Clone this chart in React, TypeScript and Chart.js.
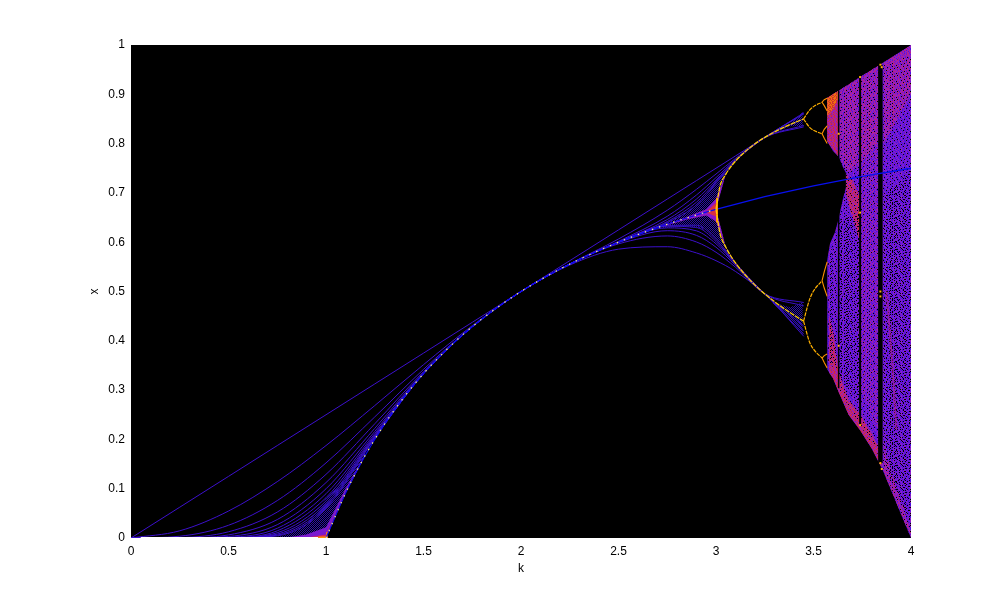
import React, { useEffect, useRef } from "react";
import { Chart, registerables } from "chart.js";

Chart.register(...registerables);

const xTicks = [0, 0.5, 1, 1.5, 2, 2.5, 3, 3.5, 4];
const yTicks = [0, 0.1, 0.2, 0.3, 0.4, 0.5, 0.6, 0.7, 0.8, 0.9, 1];

// transient curves, read at these k values
const kGrid = [0, 0.25, 0.5, 0.75, 1, 1.25, 1.5, 1.75, 2, 2.25, 2.5, 2.75, 2.9, 3, 3.1, 3.25, 3.45];
const curve1 = [0, 0.0625, 0.125, 0.1875, 0.25, 0.3125, 0.375, 0.4375, 0.5, 0.5625, 0.625, 0.6875, 0.725, 0.75, 0.775, 0.8125, 0.8625];
const curve2 = [0, 0.0146, 0.0547, 0.1143, 0.1875, 0.2686, 0.3516, 0.4307, 0.5, 0.5537, 0.5859, 0.5908, 0.5782, 0.5625, 0.5406, 0.4951, 0.4091];
const curve3 = [0, 0.0036, 0.0258, 0.0759, 0.1523, 0.2456, 0.342, 0.429, 0.5, 0.5559, 0.6065, 0.6648, 0.7073, 0.7383, 0.7699, 0.8124, 0.834];
const curve4 = [0, 0.0009, 0.0126, 0.0526, 0.1291, 0.2316, 0.3375, 0.4286, 0.5, 0.5554, 0.5966, 0.6127, 0.6004, 0.5796, 0.5492, 0.4953, 0.4776];
const curve5 = [0, 0.0002, 0.0062, 0.0374, 0.1124, 0.2224, 0.3353, 0.4286, 0.5, 0.5556, 0.6017, 0.6526, 0.6958, 0.731, 0.7675, 0.8124, 0.8608];
const curve6 = [0, 0, 0.0031, 0.027, 0.0998, 0.2162, 0.3342, 0.4286, 0.5, 0.5556, 0.5992, 0.6233, 0.6138, 0.5899, 0.5532, 0.4953, 0.4134];
const curve7 = [0, 0, 0.0015, 0.0197, 0.0898, 0.2118, 0.3337, 0.4286, 0.5, 0.5556, 0.6004, 0.6459, 0.6875, 0.7259, 0.7662, 0.8124, 0.8369];
const curve8 = [0, 0, 0.0008, 0.0145, 0.0818, 0.2087, 0.3335, 0.4286, 0.5, 0.5556, 0.6, 0.629, 0.623, 0.5968, 0.5553, 0.4953, 0.4708];
const curve9 = [0, 0, 0.0004, 0.0107, 0.0751, 0.2065, 0.3334, 0.4286, 0.5, 0.5556, 0.6, 0.6418, 0.6811, 0.7225, 0.7656, 0.8124, 0.86];
const curve10 = [0, 0, 0.0002, 0.0079, 0.0695, 0.205, 0.3333, 0.4286, 0.5, 0.5556, 0.6, 0.6322, 0.6299, 0.6015, 0.5566, 0.4953, 0.42];
const curve11 = [0, 0, 0, 0.0058, 0.0647, 0.2035, 0.3333, 0.4286, 0.5, 0.5556, 0.6, 0.6396, 0.6757, 0.7196, 0.7652, 0.8124, 0.85];
const curve12 = [0, 0, 0, 0.0043, 0.0606, 0.2025, 0.3333, 0.4286, 0.5, 0.5556, 0.6, 0.6338, 0.6344, 0.6055, 0.5574, 0.4953, 0.43];
const curves = [curve1, curve2, curve3, curve4, curve5, curve6, curve7, curve8, curve9, curve10, curve11, curve12];

// stable curves
const fixedK = [1, 1.1, 1.2, 1.3, 1.4, 1.5, 1.6, 1.7, 1.8, 1.9, 2, 2.1, 2.2, 2.3, 2.4, 2.5, 2.6, 2.7, 2.8, 2.9, 3];
const fixedX = [0, 0.0909, 0.1667, 0.2308, 0.2857, 0.3333, 0.375, 0.4118, 0.4444, 0.4737, 0.5, 0.5238, 0.5455, 0.5652, 0.5833, 0.6, 0.6154, 0.6296, 0.6429, 0.6552, 0.6667];
const unstableK = [3, 3.25, 3.5, 3.75, 4];
const unstableX = [0.6667, 0.6923, 0.7143, 0.7333, 0.75];
const period2K = [3, 3.02, 3.05, 3.1, 3.2, 3.3, 3.4, 3.449];
const period2Upper = [0.6667, 0.7125, 0.7377, 0.7645, 0.7995, 0.8236, 0.8421, 0.8499];
const period2Lower = [0.6667, 0.6186, 0.5902, 0.558, 0.513, 0.4794, 0.452, 0.44];
const period4K = [3.449, 3.48, 3.5, 3.544];
const period4A = [0.8499, 0.868, 0.875, 0.884];
const period4B = [0.8499, 0.833, 0.827, 0.82];
const period4C = [0.44, 0.484, 0.501, 0.522];
const period4D = [0.44, 0.397, 0.383, 0.365];
const period8K = [3.544, 3.555, 3.57];
const period8A1 = [0.884, 0.889, 0.892];
const period8A2 = [0.884, 0.877, 0.866];
const period8B1 = [0.82, 0.829, 0.836];
const period8B2 = [0.82, 0.811, 0.8];
const period8C1 = [0.522, 0.54, 0.56];
const period8C2 = [0.522, 0.507, 0.49];
const period8D1 = [0.365, 0.37, 0.373];
const period8D2 = [0.365, 0.356, 0.345];

// fans of converging iterates
const fan1K = [0.72, 0.8, 0.9, 1, 1.1, 1.2];
const fan1Base = [0, 0, 0, 0, 0.0909, 0.1667];
const fan1Outer = [0, 0.006, 0.028, 0.08, 0.122, 0.176];
const fan1Inner = [0, 0.001, 0.007, 0.022, 0.1, 0.17];
const fan1Core = [0, 0, 0.001, 0.007, 0.094, 0.167];
const fan3UpK = [2.72, 2.85, 2.95, 3, 3.05, 3.1, 3.18];
const fan3UpBase = [0.632, 0.649, 0.661, 0.667, 0.7377, 0.7645, 0.793];
const fan3UpOuter = [0.636, 0.662, 0.695, 0.726, 0.745, 0.767, 0.794];
const fan3UpInner = [0.633, 0.651, 0.667, 0.688, 0.739, 0.765, 0.793];
const fan3DownK = [2.72, 2.85, 2.95, 3, 3.05, 3.1, 3.18];
const fan3DownBase = [0.632, 0.649, 0.661, 0.667, 0.5902, 0.558, 0.52];
const fan3DownOuter = [0.628, 0.632, 0.625, 0.606, 0.584, 0.553, 0.516];
const fan3DownInner = [0.631, 0.646, 0.654, 0.642, 0.589, 0.556, 0.519];
const fan3CoreK = [2.95, 3, 3.01];
const fan3CoreLow = [0.66, 0.652, 0.65];
const fan3CoreHigh = [0.662, 0.68, 0.683];
const pinchUpK = [3.32, 3.38, 3.445];
const pinchUpLow = [0.825, 0.835, 0.835];
const pinchUpHigh = [0.832, 0.84, 0.865];
const pinchLowK = [3.29, 3.38, 3.445];
const pinchLowLow = [0.475, 0.445, 0.41];
const pinchLowHigh = [0.478, 0.468, 0.478];

// chaotic region edges
const topEdgeK = [3.57, 3.63, 3.68, 3.74, 3.83, 3.87, 3.93, 4];
const topEdgeX = [0.8925, 0.9075, 0.92, 0.935, 0.9575, 0.9675, 0.9825, 1];
const lowEdgeK = [3.57, 3.6, 3.63, 3.68, 3.74, 3.8, 3.85, 3.9, 3.95, 4];
const lowEdgeX = [0.3425, 0.324, 0.295, 0.25, 0.218, 0.1805, 0.142, 0.0951, 0.047, 0];
const seamK = [3.57, 3.6, 3.63, 3.65, 3.68, 3.75, 4];
const upperLobeBottomX = [0.805, 0.785, 0.773, 0.753, 0.73, 0.73, 0.75];
const lowerLobeTopK = [3.57, 3.585, 3.61, 3.627, 3.652, 3.68, 3.75, 4];
const lowerLobeTopX = [0.564, 0.598, 0.62, 0.645, 0.69, 0.73, 0.73, 0.75];

const orangeLobeK = [3.57, 3.6, 3.625];
const orangeLobeHigh = [0.8925, 0.9, 0.906];
const orangeLobeLow = [0.855, 0.87, 0.89];
const redUpperK = [3.57, 3.63, 3.68, 3.74, 3.83];
const redUpperHigh = [0.8925, 0.9075, 0.92, 0.935, 0.9575];
const redUpperLow = [0.805, 0.773, 0.74, 0.76, 0.8];
const redTopLow = [0.86, 0.86, 0.85, 0.84, 0.84];
const redMidK = [3.665, 3.7, 3.74];
const redMidHigh = [0.74, 0.725, 0.69];
const redMidLow = [0.7, 0.65, 0.6];
const magentaCentreK = [3.74, 3.83];
const magentaCentreLow = [0.3, 0.22];
const magentaCentreHigh = [0.85, 0.85];
const redLowerK = [3.58, 3.6, 3.63, 3.68, 3.74, 3.8, 3.85];
const redLowerHigh = [0.45, 0.42, 0.335, 0.28, 0.25, 0.21, 0.17];
const redLowerLow = [0.335, 0.324, 0.295, 0.25, 0.218, 0.1805, 0.142];
const pinkRightK = [3.86, 3.93, 4];
const pinkRightHigh = [0.965, 0.9825, 1];
const pinkRightLow = [0.8, 0.85, 0.9];
const pinkBottomK = [3.86, 3.9, 3.95, 4];
const pinkBottomHigh = [0.19, 0.135, 0.075, 0.015];
const pinkBottomLow = [0.133, 0.0951, 0.047, 0];
const speckleAK = [3.575, 3.63, 3.74];
const speckleALow = [0.36, 0.33, 0.27];
const speckleAHigh = [0.56, 0.645, 0.66];
const speckleBK = [3.86, 3.93, 4];
const speckleBLow = [0.15, 0.09, 0.02];
const speckleBHigh = [0.7, 0.72, 0.75];
const speckleCK = [3.63, 3.83, 3.86, 4];
const speckleCLow = [0.3, 0.17, 0.14, 0];
const speckleCHigh = [0.9, 0.95, 0.96, 0.98];

const windows = [
  { k: 3.629, low: 0.304, high: 0.908, width: 1.5 },
  { k: 3.739, low: 0.229, high: 0.935, width: 2 },
  { k: 3.843, low: 0.152, high: 0.96, width: 4.5 },
];
const windowSpotK = [3.739, 3.739, 3.739, 3.629, 3.629, 3.843, 3.843, 3.843, 3.843, 3.85, 3.85];
const windowSpotX = [0.935, 0.229, 0.66, 0.82, 0.39, 0.96, 0.152, 0.5, 0.49, 0.955, 0.14];

const palette: Record<string, string> = {
  ".": "#000000",
  a: "#4a10e0",
  b: "#6a18d8",
  c: "#9420c0",
  d: "#b82088",
  e: "#d03030",
  f: "#f07010",
  g: "#2a10a8",
};
const tileViolet = [
  "abcbabcbcababcbbacbabcab",
  "cbabbcabbcabcbabbcacbbab",
  "bacbcabacbbabcabcbabcbca",
  "bbcabbcbabcbabbcabcbacbb",
  "abcbacabbcabbcbabcbabbca",
  "cbbabcbcabcbacbbacbcabcb",
  "abcabbabcbabbcabcabbcaba",
  "bcabcbcabbcabcbabbcabcbc",
  "babcabbcbacbbabcabcbabca",
  "cbacbbabcabcabcbbacbabbc",
  "abbcabcbabbcbabcabbcabcb",
  "bcabbabcbcabbcabcbabcbab",
];
const tileSpeckleDense = [
  "__.______.___.__________.___.___",
  "_______.________.___.__________.",
  ".__.___________.__________.___._",
  "________..___.________.__.______",
  "___.___________.__.___________._",
  "______.__.___________.___.______",
  ".___________.___.__________.____",
  "____.__.___________.___._______.",
  "__________.____.___________.____",
  "_.____._______.____.__.________.",
  "_________.__________._____.___._",
  "___.___________._.__________.___",
];
const tileSpeckleSparse = [
  "____.___________.______",
  "__________.___________.",
  "______.___________.____",
  ".____________._________",
  "_________.__________.__",
  "___.____________.______",
  "____________.__________",
  "_______.__________.____",
];
const tileMagenta = [
  "d_c_d_dc_d_c_dd_c_d_cd_d",
  "_dc_dd_c_d_dc_d_c_dd_c_d",
  "c_d_dc_d_c_d_dc_dd_c_d_c",
  "_d_c_dd_c_d_c_dd_c_d_dc_",
  "dd_c_d_c_dd_dc_d_c_dc_d_",
  "_c_dd_c_d_c_dd_c_d_dd_c_",
  "d_dc_d_dc_d_c_d_dc_d_c_d",
  "_d_c_dd_c_dd_c_d_c_dd_c_",
];
const tileFaintMagenta = [
  "d___c___d__c____d___c___",
  "__c___d____d__c____d__c_",
  "d___c___c___d___d___c___",
  "___d__c____c__d___c____d",
  "_c____d__d____c_____d___",
  "___c____c___d____c___d__",
];
const tileRed = [
  "dedcdedcdeddcedcdedcdedd",
  "edcdeddebdcdedcedddcedcd",
  "dcdedcdedcedcdebdedcdede",
  "deddcedcdedddcdedcedcddc",
  "cdedcbdedcdedcdeddedcdde",
  "dedcdedcdedceddbcdedcdcd",
  "edcdedcedcdebdcdedcdeddc",
  "dcedddedcdedcdedcedcdedd",
];
const tileOrange = ["fefeffefefef", "efffeeffefef", "feefefffefef", "ffefeefeffee"];
const tileChecker = ["g_g_g_g_", "_g_g_g_g"];

function makeTile(rows: string[]): CanvasPattern {
  const c = document.createElement("canvas");
  c.width = rows[0].length;
  c.height = rows.length;
  const g = c.getContext("2d")!;
  rows.forEach((row, y) => {
    for (let x = 0; x < row.length; x++) {
      if (palette[row[x]]) {
        g.fillStyle = palette[row[x]];
        g.fillRect(x, y, 1, 1);
      }
    }
  });
  return g.createPattern(c, "repeat")!;
}

const xy = (ks: number[], xs: number[]) => ks.map((k, i) => ({ x: k, y: xs[i] }));

function buildDatasets() {
  const violet = makeTile(tileViolet);
  const dense = makeTile(tileSpeckleDense);
  const sparse = makeTile(tileSpeckleSparse);
  const magenta = makeTile(tileMagenta);
  const faint = makeTile(tileFaintMagenta);
  const red = makeTile(tileRed);
  const orange = makeTile(tileOrange);
  const checker = makeTile(tileChecker);
  const ds: any[] = [];
  const line = (data: any[], color: string, width = 1, extra: any = {}) =>
    ds.push({ data, borderColor: color, borderWidth: width, pointRadius: 0, fill: false, ...extra });
  const band = (low: any[], high: any[], bg: any) => {
    ds.push({ data: low, borderWidth: 0, borderColor: "rgba(0,0,0,0)", pointRadius: 0, fill: false });
    ds.push({ data: high, borderWidth: 0, borderColor: "rgba(0,0,0,0)", pointRadius: 0, fill: "-1", backgroundColor: bg });
  };

  // chaotic region
  band(xy(lowEdgeK, lowEdgeX), xy(lowerLobeTopK, lowerLobeTopX), violet);
  band(xy(seamK, upperLobeBottomX), xy(topEdgeK, topEdgeX), violet);
  band(xy(magentaCentreK, magentaCentreLow), xy(magentaCentreK, magentaCentreHigh), faint);
  band(xy(redUpperK, redUpperLow), xy(redUpperK, redUpperHigh), magenta);
  band(xy([3.57, 3.625], [0.805, 0.775]), xy([3.57, 3.625], [0.8925, 0.906]), red);
  band(xy(redUpperK, redTopLow), xy(redUpperK, redUpperHigh), magenta);
  band(xy(redMidK, redMidLow), xy(redMidK, redMidHigh), red);
  band(xy(redLowerK, redLowerLow), xy(redLowerK, redLowerHigh), red);
  band(xy(pinkRightK, pinkRightLow), xy(pinkRightK, pinkRightHigh), magenta);
  band(xy(pinkBottomK, pinkBottomLow), xy(pinkBottomK, pinkBottomHigh), magenta);
  band(xy(orangeLobeK, orangeLobeLow), xy(orangeLobeK, orangeLobeHigh), orange);
  band(xy(speckleAK, speckleALow), xy(speckleAK, speckleAHigh), dense);
  band(xy(speckleBK, speckleBLow), xy(speckleBK, speckleBHigh), dense);
  band(xy(speckleCK, speckleCLow), xy(speckleCK, speckleCHigh), sparse);
  line(xy([3.875, 3.905, 3.925], [0.5, 0.35, 0.22]), "rgba(176,32,144,0.55)", 2);

  // periodic windows
  windows.forEach((w) => line([{ x: w.k, y: w.low }, { x: w.k, y: w.high }], "#000000", w.width));

  // transient curves
  curves.forEach((c) =>
    line(xy(kGrid, c), "#3c10cc", 1, { cubicInterpolationMode: "monotone" })
  );

  // fans
  band(xy(fan1K, fan1Base), xy(fan1K, fan1Outer), checker);
  band(xy(fan1K, fan1Base), xy(fan1K, fan1Inner), "#7a18d0");
  band(xy(fan1K, fan1Base), xy(fan1K, fan1Core), "#d02860");
  band(xy(fan3UpK, fan3UpBase), xy(fan3UpK, fan3UpOuter), checker);
  band(xy(fan3DownK, fan3DownOuter), xy(fan3DownK, fan3DownBase), checker);
  band(xy(fan3UpK, fan3UpBase), xy(fan3UpK, fan3UpInner), "#8a18c8");
  band(xy(fan3DownK, fan3DownInner), xy(fan3DownK, fan3DownBase), "#8a18c8");
  band(xy(fan3CoreK, fan3CoreLow), xy(fan3CoreK, fan3CoreHigh), "#d83040");
  band(xy(pinchUpK, pinchUpLow), xy(pinchUpK, pinchUpHigh), checker);
  band(xy(pinchLowK, pinchLowLow), xy(pinchLowK, pinchLowHigh), checker);

  // stable and unstable branches
  line(xy([0.05, 0.96], [0, 0]), "#ffffff", 2);
  line(xy([0.96, 1.01], [0, 0]), "#ff9000", 3);
  line(xy([1.005, 1.005], [0, 0.012]), "#ff9000", 1.5);
  line(xy(fixedK, fixedX), "#0a0af0", 1.2, { cubicInterpolationMode: "monotone" });
  line(xy(fixedK, fixedX), "#fff080", 1.2, { cubicInterpolationMode: "monotone", borderDash: [1.5, 6] });
  line(xy(unstableK, unstableX), "#0810f0", 1.3);
  line(xy([3.005, 3.005], [0.64, 0.69]), "#ff9000", 2);
  [period2Upper, period2Lower].forEach((p) =>
    line(xy(period2K, p), "#ffd000", 1.3, { cubicInterpolationMode: "monotone", borderDash: [5, 1] })
  );
  [period4A, period4B, period4C, period4D].forEach((p) =>
    line(xy(period4K, p), "#ffb000", 1.2, { cubicInterpolationMode: "monotone", borderDash: [4, 1] })
  );
  [period8A1, period8A2, period8B1, period8B2, period8C1, period8C2, period8D1, period8D2].forEach((p) =>
    line(xy(period8K, p), "#ff9000", 1.1)
  );
  ds.push({
    data: xy(windowSpotK, windowSpotX),
    showLine: false,
    borderWidth: 0,
    pointRadius: 1.4,
    pointStyle: "rect",
    pointBackgroundColor: "#ffb000",
    fill: false,
  });
  return ds.map((d, i) => ({ ...d, order: ds.length - i }));
}

const blackPlot = {
  id: "blackPlot",
  beforeDatasetsDraw(chart: any) {
    const { ctx, chartArea: a } = chart;
    ctx.save();
    ctx.fillStyle = "#000000";
    ctx.fillRect(a.left, a.top, a.right - a.left, a.bottom - a.top);
    ctx.restore();
  },
};

const font = { family: "'Liberation Sans', Arial, sans-serif", size: 12 };
const label = (v: any) => String(v);

export default function App() {
  const ref = useRef<HTMLCanvasElement>(null);
  useEffect(() => {
    const chart = new Chart(ref.current!, {
      type: "line",
      data: { datasets: buildDatasets() },
      plugins: [blackPlot],
      options: {
        animation: false,
        responsive: false,
        events: [],
        layout: { padding: { top: 45, right: 96, left: 0, bottom: 0 } },
        plugins: { legend: { display: false }, tooltip: { enabled: false } },
        scales: {
          x: {
            type: "linear",
            min: 0,
            max: 4,
            afterFit: (s: any) => { s.height = 68; },
            afterBuildTicks: (s: any) => { s.ticks = xTicks.map((v) => ({ value: v })); },
            grid: { display: false, drawTicks: false },
            border: { display: false },
            ticks: { color: "#000", font, padding: 6, autoSkip: false, maxRotation: 0, callback: label },
            title: { display: true, text: "k", color: "#000", font, padding: { top: 0, bottom: 30 } },
          },
          y: {
            type: "linear",
            min: 0,
            max: 1,
            afterFit: (s: any) => { s.width = 131; },
            afterBuildTicks: (s: any) => { s.ticks = yTicks.map((v) => ({ value: v })); },
            grid: { display: false, drawTicks: false },
            border: { display: false },
            ticks: { color: "#000", font, padding: 6, autoSkip: false, callback: label },
            title: { display: true, text: "x", color: "#000", font, padding: { top: 87, bottom: 0 } },
          },
        },
      },
    } as any);
    return () => chart.destroy();
  }, []);
  return (
    <div style={{ position: "absolute", left: 0, top: 0, width: 1007, height: 606, background: "#fff" }}>
      <canvas ref={ref} width={1007} height={606} style={{ display: "block" }} />
    </div>
  );
}
